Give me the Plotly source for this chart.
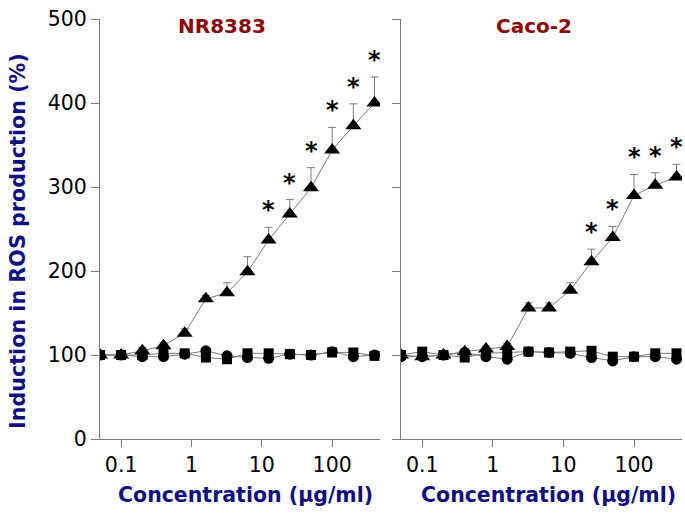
import math
import plotly.graph_objects as go

conc = [0.05, 0.1, 0.2, 0.4, 0.8, 1.6, 3.2, 6.25, 12.5, 25, 50, 100, 200, 400]

nr_tri = [100, 100, 105, 111, 126, 167, 174, 199, 237, 268, 299, 344, 373, 400]
nr_tri_err = [0, 2, 4, 4, 5, 4, 12, 18, 15, 17, 24, 27, 26, 31]
nr_sq = [100, 100, 100, 102, 102, 97, 95, 102, 102, 101, 100, 103, 103, 99]
nr_ci = [100, 100, 98, 98, 101, 105, 99, 97, 96, 101, 100, 104, 98, 100]
nr_sig = [False] * 8 + [True] * 6

caco_tri = [100, 98, 100, 104, 107, 110, 156, 156, 177, 211, 240, 290, 302, 312]
caco_tri_err = [0, 2, 2, 3, 4, 4, 6, 6, 9, 15, 13, 25, 15, 15]
caco_sq = [100, 104, 100, 97, 102, 103, 104, 103, 104, 105, 98, 98, 102, 102]
caco_ci = [98, 98, 100, 103, 98, 95, 104, 103, 102, 97, 93, 98, 98, 95]
caco_sig = [False] * 9 + [True] * 5

xtick_vals = [0.1, 1, 10, 100]
xtick_text = ["0.1", "1", "10", "100"]
ytick_vals = [0, 100, 200, 300, 400, 500]

panel_titles = ["NR8383", "Caco-2"]
x_title = "Concentration (µg/ml)"
y_title = "Induction in ROS production (%)"

W, H = 685, 515
TOP, BOT = 19, 439
LINE = "#7a7a7a"
FONT = "DejaVu Sans"

fig = go.Figure()


def add_panel(xa, ya, tri, tri_err, sq, ci):
    line = dict(color=LINE, width=1)
    fig.add_trace(go.Scatter(x=conc, y=tri, mode="lines+markers", xaxis=xa, yaxis=ya,
                             line=line,
                             marker=dict(symbol="triangle-up", size=14, color="black"),
                             error_y=dict(type="data", array=tri_err, arrayminus=[0] * len(tri_err),
                                          symmetric=False, color=LINE, thickness=1, width=4),
                             showlegend=False))
    fig.add_trace(go.Scatter(x=conc, y=sq, mode="lines+markers", xaxis=xa, yaxis=ya,
                             line=line,
                             marker=dict(symbol="square", size=10, color="black"),
                             showlegend=False))
    fig.add_trace(go.Scatter(x=conc, y=ci, mode="lines+markers", xaxis=xa, yaxis=ya,
                             line=line,
                             marker=dict(symbol="circle", size=11, color="black"),
                             showlegend=False))


add_panel("x", "y", nr_tri, nr_tri_err, nr_sq, nr_ci)
add_panel("x2", "y2", caco_tri, caco_tri_err, caco_sq, caco_ci)


def py(p):
    return (BOT - p) / (BOT - TOP)


annotations = []
for xr, yr, tri, err, sig in [("x", "y", nr_tri, nr_tri_err, nr_sig),
                              ("x2", "y2", caco_tri, caco_tri_err, caco_sig)]:
    for c, v, e, s in zip(conc, tri, err, sig):
        if s:
            annotations.append(dict(x=math.log10(c), y=v + e, xref=xr, yref=yr, text="<b>*</b>",
                                    showarrow=False, xanchor="center", yanchor="bottom", yshift=1,
                                    font=dict(family=FONT, size=24, color="black")))

L_DOM = [100 / W, 380 / W]
R_DOM = [401 / W, 682 / W]

for txt, xc in zip(panel_titles, [222, 534]):
    annotations.append(dict(x=xc / W, y=py(26), xref="paper", yref="paper", text="<b>%s</b>" % txt,
                            showarrow=False, xanchor="center", yanchor="middle",
                            font=dict(family=FONT, size=20, color="#8b0a0a")))
for xc in [245, 548]:
    annotations.append(dict(x=xc / W, y=py(495), xref="paper", yref="paper", text="<b>%s</b>" % x_title,
                            showarrow=False, xanchor="center", yanchor="middle",
                            font=dict(family=FONT, size=20.5, color="#101080")))
annotations.append(dict(x=18 / W, y=py(241), xref="paper", yref="paper", text="<b>%s</b>" % y_title,
                        showarrow=False, xanchor="center", yanchor="middle", textangle=-90,
                        font=dict(family=FONT, size=20.7, color="#101080")))

xaxis_common = dict(type="log", range=[-1.301, 2.68], tickvals=xtick_vals, ticktext=xtick_text,
                    showgrid=False, zeroline=False, showline=True, linecolor=LINE, linewidth=1,
                    ticks="outside", ticklen=7, tickcolor=LINE, tickwidth=1,
                    tickfont=dict(family=FONT, size=20.5, color="black"))
yaxis_common = dict(range=[0, 500], tickvals=ytick_vals, showgrid=False, zeroline=False,
                    showline=True, linecolor=LINE, linewidth=1, ticks="outside", ticklen=8,
                    tickcolor=LINE, tickwidth=1, tickfont=dict(family=FONT, size=20.5, color="black"))

fig.update_layout(
    width=W, height=H,
    margin=dict(l=0, r=0, t=TOP, b=H - BOT),
    paper_bgcolor="white", plot_bgcolor="white",
    xaxis=dict(domain=L_DOM, anchor="y", **xaxis_common),
    xaxis2=dict(domain=R_DOM, anchor="y2", **xaxis_common),
    yaxis=dict(domain=[0, 1], anchor="x", **yaxis_common),
    yaxis2=dict(domain=[0, 1], anchor="x2", showticklabels=False, **yaxis_common),
    annotations=annotations,
)

fig.write_html("out.html", config={"displayModeBar": False},
               post_script="document.body.style.margin='0';")
